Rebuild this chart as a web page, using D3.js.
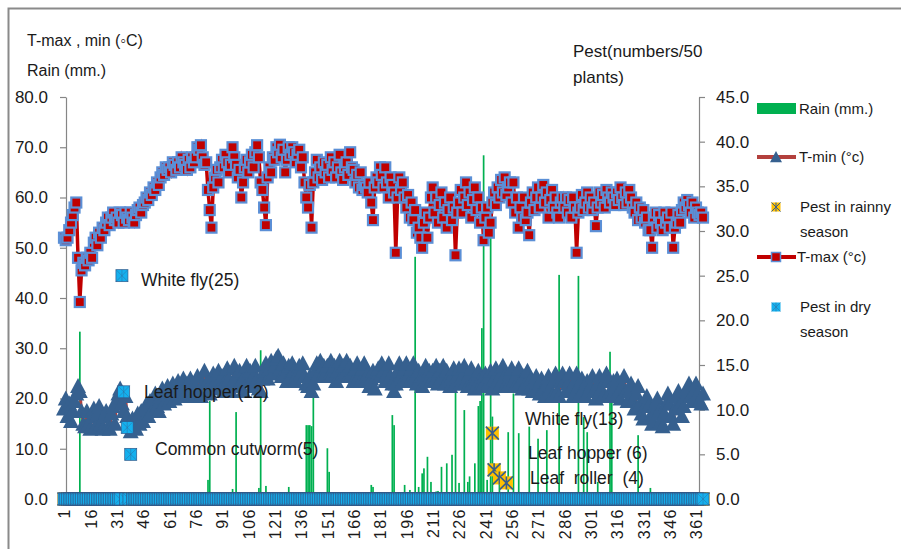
<!DOCTYPE html>
<html lang="en">
<head>
<meta charset="utf-8" />
<title>T-max, T-min, rain and pests</title>
<script src="https://d3js.org/d3.v7.min.js" charset="utf-8"></script>
<style>
  body { margin: 0; background: #fff; }
  svg text { font-family: "Liberation Sans", Arial, sans-serif; fill: #1a1a1a; }
  .axis path, .axis line { stroke: #868686; stroke-width: 1.2; }
  .axis text { font-size: 17px; }
  .xaxis text { font-size: 16px; letter-spacing: 1.5px; }
</style>
</head>
<body>
<div id="chart"></div>
<script>
// daily max temperature (left axis), rows of 15 days
const tmax = [
  52, 51.5, 52, 53.5, 55, 56.5, 58, 59, 48, 39.2, 45.5, 47, 46.5, 48, 47.5,
  49, 48, 51, 52, 50.5, 53, 52, 54, 53.5, 55, 56, 54.5, 56, 57, 55.5,
  56, 55, 57, 56.5, 55, 57, 56, 55.5, 57, 56, 55, 56.5, 57.5, 58, 57,
  58.5, 59, 60, 59.5, 61, 60.5, 62, 61.5, 63, 62.5, 64, 65, 64.5, 66, 65.5,
  66, 65, 67, 66.5, 65.5, 67, 66, 68, 67, 66.5, 65.5, 67.5, 66, 68, 67,
  68, 70, 69.5, 70.4, 68, 66.5, 67, 61.5, 57.5, 54, 62, 64, 65.5, 63, 66,
  67.5, 66, 68.5, 67, 65, 66.5, 70, 68, 66.5, 64, 65.5, 60, 63, 66, 67.5,
  65, 67, 68.5, 66, 69, 70.4, 68, 63, 61.5, 58, 54.5, 64, 66, 65, 68,
  67.5, 70, 69, 70.5, 68, 69.5, 65, 67.5, 70, 68.5, 70, 69, 67, 68.5, 69.5,
  66, 68, 63, 60, 58, 62.5, 54, 63, 65, 67.5, 64, 66, 63.5, 67, 65,
  66.5, 64, 68, 65.5, 67, 64, 66, 68.5, 65, 63.5, 66, 67, 64.5, 69, 66,
  65.5, 63, 64.5, 62, 65, 61.5, 62.5, 62, 61, 63, 59, 55.5, 62, 64, 63,
  66, 64.5, 62, 66, 63, 60, 64, 62.5, 61, 49, 60, 64, 61.5, 63, 60,
  58, 60.5, 56, 59, 55.5, 57.5, 53, 54, 52, 50, 55, 57, 52, 56, 60,
  62, 57, 60, 55, 58.5, 61, 56, 59, 54, 57.5, 60, 55.5, 58, 48.5, 57,
  59, 61.5, 57, 60, 63, 58.5, 61, 56, 59.5, 62, 57.5, 60, 55, 58, 51.5,
  56, 58, 53, 55, 59, 61, 58.5, 62, 60, 63.5, 61, 64, 60.5, 62, 63,
  59, 63, 57, 60, 54, 58, 56, 60, 55.5, 57, 52.5, 59, 61, 57.5, 60,
  62, 58, 60, 62.5, 59, 61, 56, 59.5, 61.5, 58, 60, 57, 56, 59, 60,
  58, 60, 57, 59.5, 56, 60, 58, 49, 57, 58, 60.5, 57.5, 59, 61, 58,
  60, 57.5, 59, 54.3, 58, 61, 59, 60.5, 58, 61.5, 60, 59, 61, 60, 58.5,
  61, 59.5, 62, 60, 58.5, 61, 59, 61.5, 60, 58, 57, 59, 55.5, 58, 56,
  57.5, 55, 56, 53.5, 53.5, 50, 56, 57, 54, 56.5, 55, 53.5, 57, 55, 56,
  54, 57, 50, 54, 55, 56.5, 55, 57.5, 59, 58, 59.5, 58.5, 57, 59, 56,
  58, 57, 56.5, 57, 56
];

// daily min temperature (left axis)
const tmin = [
  18, 20, 16.5, 19, 15.5, 17.5, 19.5, 21, 22.5, 21.5, 17.5, 15, 14.5, 17.5, 15,
  14, 16.5, 18, 14.5, 17, 18.5, 15, 14, 16.5, 17.5, 14.5, 14, 17, 18.5, 15,
  19.5, 21, 22, 19, 17.5, 20.5, 16.5, 15, 13.5, 16, 14.5, 14, 17, 15, 17.5,
  15.5, 18, 19, 16.5, 19.5, 17.5, 20, 21, 18.5, 17.5, 20.5, 22, 19, 21, 22.5,
  19.5, 22, 23, 20, 21.5, 23.5, 20.5, 22.5, 24, 21, 23, 20.5, 24, 22, 21,
  22.5, 24.5, 21.5, 20.5, 23, 25.5, 23, 21.5, 21, 23.5, 25, 22, 24, 25.5, 22.5,
  24.5, 21.5, 23.5, 26, 24, 21.5, 23, 26.5, 24.5, 22.5, 25.5, 23.5, 21.5, 24.5, 26.5,
  23.5, 25.5, 22.5, 24.5, 26.5, 24, 22, 21.5, 24, 25.5, 27, 24, 26, 27.5, 25,
  26.5, 28, 28.5, 26, 24.5, 27, 25, 23.5, 26.5, 24.5, 27, 25.5, 23.5, 25, 26.5,
  25, 27, 24.5, 23, 22.5, 24.5, 21.5, 23, 25.5, 27, 25, 27.5, 24.5, 26.5, 25,
  26.5, 24.5, 27.5, 25, 26.5, 23.5, 25.5, 27.5, 24.5, 26.5, 25, 27.5, 24.5, 26.5, 25,
  23.5, 26, 27, 24.5, 23.5, 26, 27, 23.5, 25, 22.5, 24, 25.5, 22, 24.5, 26,
  24.5, 27, 25.5, 23.5, 25, 27, 24.5, 23, 21.5, 23, 25.5, 27, 24.5, 23.5, 26,
  27, 24.5, 23.5, 26, 27, 24.5, 23, 25.5, 24, 22.5, 24.5, 26.5, 23.5, 25.5, 23.5,
  25.5, 23.5, 26.5, 23, 25.5, 24, 26.5, 23, 25.5, 24, 22.5, 24.5, 26, 23, 24.5,
  26, 23, 24.5, 26.5, 23.5, 22.5, 25, 26, 23.5, 22, 24, 25.5, 22.5, 24.5, 23,
  25, 22.5, 24.5, 25.5, 22, 24, 26, 23.5, 22.5, 25, 26.5, 24.5, 23, 22.5, 25,
  26, 23.5, 22.5, 25, 26, 23.5, 22, 24.5, 23, 25.5, 22, 24, 21.5, 23.5, 24.5,
  22.5, 21, 24, 22, 20.5, 23, 24.5, 22, 20.5, 23.5, 25, 21.5, 20.5, 23.5, 25,
  23.5, 21.5, 23, 25, 22, 20.5, 23.5, 25, 22.5, 21, 24, 22, 20.5, 23.5, 21.5,
  22.5, 24.5, 21.5, 20, 23, 24.5, 22, 20.5, 23.5, 25, 23.5, 21.5, 20.5, 23.5, 22.5,
  24, 21.5, 20, 22.5, 24.5, 21.5, 19.5, 21.5, 23, 19.5, 18, 21, 22.5, 19, 17,
  16, 18.5, 20.5, 18.5, 16.5, 15, 17, 19, 20, 17.5, 15.5, 14.5, 17, 19, 21,
  19, 16.5, 15, 18, 20.5, 21.5, 19, 16.5, 18.5, 20.5, 22, 23, 20.5, 19.5, 21.5,
  23, 21, 19.5, 19, 21
];

// rain (mm.), only the days with rain
const rainDays = [10, 83, 84, 97, 99, 112, 113, 116, 129, 139, 140, 141, 142, 143, 151, 152,
  176, 177, 188, 189, 195, 198, 201, 203, 205, 206, 208, 210, 213, 214, 216, 219, 222, 224,
  226, 229, 231, 232, 235, 237, 238, 239, 240, 242, 244, 245, 249, 254, 257, 260, 266, 271,
  276, 283, 294, 297, 299, 305, 312, 313, 328, 335];
const rainMm = [33.3, 3.8, 19.5, 2.0, 17.3, 2.2, 29.6, 2.6, 2.4, 14.7, 14.7, 14.7, 14.5, 20.3, 10.1, 5.4,
  2.8, 2.4, 16.7, 14.7, 2.8, 1.8, 48.2, 2.4, 5.1, 6.1, 8.4, 3.4, 1.5, 1.6, 6.4, 7.1, 8.8, 21.7,
  3.2, 17.7, 3.4, 4.5, 7.1, 18.5, 19.5, 34, 68.4, 3.8, 52.2, 16.4, 7.1, 13.3, 21, 13.1, 14.4, 12,
  13.7, 44.6, 44.4, 16.3, 13.3, 3.4, 29.3, 20.7, 12.7, 2.2];

// pests: rainy season read on the left scale, dry season on the right scale
const rainyDays = [245, 246, 249, 253];
const rainyPests = [13.1, 5.8, 4.2, 3.2];
const dryDays = [34, 35, 37, 39];
const dryPests = [25, 12, 8, 5];

const leftTicks = [0, 10, 20, 30, 40, 50, 60, 70, 80];
const rightTicks = [0, 5, 10, 15, 20, 25, 30, 35, 40, 45];
const dayLabels = [1, 16, 31, 46, 61, 76, 91, 106, 121, 136, 151, 166, 181, 196, 211, 226,
  241, 256, 271, 286, 301, 316, 331, 346, 361];

const W = 901, H = 549;
const svg = d3.select("#chart").append("svg")
  .attr("width", W).attr("height", H);

// chart frame
svg.append("rect")
  .attr("x", 8.5).attr("y", 8.5).attr("width", 1000).attr("height", 1000)
  .attr("fill", "#fff").attr("stroke", "#8a8a8a").attr("stroke-width", 2);

const days = d3.range(1, tmax.length + 1);
const x = d3.scaleLinear().domain([1, 361]).range([64, 696]);
const yL = d3.scaleLinear().domain([0, 80]).range([499, 97]);
const yR = d3.scaleLinear().domain([0, 45]).range([499, 97]);

const rainByDay = new Map(rainDays.map((d, i) => [d, rainMm[i]]));
const rainyByDay = new Map(rainyDays.map((d, i) => [d, rainyPests[i]]));
const dryByDay = new Map(dryDays.map((d, i) => [d, dryPests[i]]));

const daily = days.map((d, i) => ({
  day: d,
  tmax: tmax[i],
  tmin: tmin[i],
  rain: rainByDay.get(d) || 0,
  rainy: rainyByDay.get(d) || 0,
  dry: dryByDay.get(d) || 0
}));

// axes
svg.append("g").attr("class", "axis")
  .attr("transform", "translate(66,0)")
  .call(d3.axisLeft(yL).tickValues(leftTicks).tickFormat(d3.format(".1f"))
    .tickSize(6).tickSizeOuter(0).tickPadding(12));
svg.append("g").attr("class", "axis")
  .attr("transform", "translate(699,0)")
  .call(d3.axisRight(yR).tickValues(rightTicks).tickFormat(d3.format(".1f"))
    .tickSize(6).tickSizeOuter(0).tickPadding(11));
const gX = svg.append("g").attr("class", "axis xaxis")
  .attr("transform", "translate(0,499)")
  .call(d3.axisBottom(x).tickValues(dayLabels).tickSize(0).tickSizeOuter(0));
gX.select(".domain").attr("d", "M66,0H699");
gX.selectAll("text")
  .attr("transform", "translate(0,9) rotate(-90)")
  .attr("text-anchor", "end")
  .attr("x", 0).attr("y", 0).attr("dy", "0.36em");

// rain bars
svg.append("g").selectAll("rect")
  .data(daily.filter(d => d.rain > 0))
  .join("rect")
  .attr("x", d => x(d.day) - 0.8)
  .attr("width", 1.7)
  .attr("y", d => yL(d.rain))
  .attr("height", d => yL(0) - yL(d.rain))
  .attr("fill", "#00B050");

// T-min
const tri = "M0,-8L8,7L-8,7Z";
svg.append("path")
  .datum(daily)
  .attr("fill", "none").attr("stroke", "#B3403D").attr("stroke-width", 3)
  .attr("d", d3.line().x(d => x(d.day)).y(d => yL(d.tmin)));
svg.append("g").selectAll("path")
  .data(daily)
  .join("path")
  .attr("transform", d => `translate(${x(d.day)},${yL(d.tmin)})`)
  .attr("d", tri)
  .attr("fill", "#36608F");

// T-max
svg.append("path")
  .datum(daily)
  .attr("fill", "none").attr("stroke", "#C00000").attr("stroke-width", 3.5)
  .attr("d", d3.line().x(d => x(d.day)).y(d => yL(d.tmax)));
svg.append("g").selectAll("rect")
  .data(daily)
  .join("rect")
  .attr("x", d => x(d.day) - 5)
  .attr("y", d => yL(d.tmax) - 5)
  .attr("width", 10).attr("height", 10)
  .attr("fill", "#C00000").attr("stroke", "#5B8FD6").attr("stroke-width", 2.2);

// pest markers: filled square with an asterisk
function starMarker(g, fill, size, lineW, edge) {
  const h = size / 2;
  g.append("rect").attr("x", -h).attr("y", -h).attr("width", size).attr("height", size)
    .attr("fill", fill)
    .attr("stroke", edge ? "#2F5A8C" : "none").attr("stroke-width", edge || 0);
  g.append("path")
    .attr("d", `M${-h},${-h}L${h},${h}M${h},${-h}L${-h},${h}M0,${-h}V${h}`)
    .attr("stroke", "#385D8A").attr("stroke-width", lineW).attr("fill", "none");
}
svg.append("g").selectAll("g")
  .data(daily)
  .join("g")
  .attr("transform", d => `translate(${x(d.day)},${yL(d.rainy)})`)
  .each(function () { starMarker(d3.select(this), "#FFC000", 13, 1.6); });
svg.append("g").selectAll("g")
  .data(daily)
  .join("g")
  .attr("transform", d => `translate(${x(d.day)},${yR(d.dry)})`)
  .each(function () { starMarker(d3.select(this), "#14B0EE", 12, 0.4, 0.7); });

// pest annotations
const notes = [
  { t: "White fly(25)", x: 141, y: 280 },
  { t: "Leaf hopper(12)", x: 144, y: 392 },
  { t: "Common cutworm(5)", x: 155, y: 449 },
  { t: "White fly(13)", x: 525, y: 419 },
  { t: "Leaf hopper (6)", x: 528, y: 453 },
  { t: "Leaf  roller  (4)", x: 530, y: 478 }
];
svg.append("g").selectAll("text")
  .data(notes)
  .join("text")
  .attr("x", d => d.x).attr("y", d => d.y).attr("dy", "0.35em")
  .style("font-size", "17.5px").style("white-space", "pre")
  .text(d => d.t);

// axis titles
const titles = [
  { t: "T-max , min (\u25E6C)", x: 27, y: 40, s: 16 },
  { t: "Rain (mm.)", x: 27, y: 70, s: 16 },
  { t: "Pest(numbers/50", x: 573, y: 51, s: 17 },
  { t: "plants)", x: 573, y: 77, s: 17 }
];
svg.append("g").selectAll("text")
  .data(titles)
  .join("text")
  .attr("x", d => d.x).attr("y", d => d.y).attr("dy", "0.35em")
  .style("font-size", d => d.s + "px")
  .text(d => d.t);

// legend
const lg = svg.append("g").style("font-size", "15px");
lg.append("rect").attr("x", 757).attr("y", 103).attr("width", 39).attr("height", 11).attr("fill", "#00B050");
lg.append("text").attr("x", 799).attr("y", 109).attr("dy", "0.35em").text("Rain (mm.)");

lg.append("line").attr("x1", 757).attr("x2", 796).attr("y1", 157).attr("y2", 157)
  .attr("stroke", "#B3403D").attr("stroke-width", 4);
lg.append("path").attr("transform", "translate(776,157) scale(0.75)").attr("d", tri).attr("fill", "#36608F");
lg.append("text").attr("x", 799).attr("y", 157).attr("dy", "0.35em").text("T-min (\u00B0c)");

starMarker(lg.append("g").attr("transform", "translate(776,207)"), "#FFC000", 9, 1);
lg.append("text").attr("x", 800).attr("y", 207).attr("dy", "0.35em").text("Pest in rainny");
lg.append("text").attr("x", 800).attr("y", 232).attr("dy", "0.35em").text("season");

lg.append("line").attr("x1", 757).attr("x2", 796).attr("y1", 257).attr("y2", 257)
  .attr("stroke", "#C00000").attr("stroke-width", 4);
lg.append("rect").attr("x", 771.5).attr("y", 252.5).attr("width", 9).attr("height", 9)
  .attr("fill", "#C00000").attr("stroke", "#5B8FD6").attr("stroke-width", 1.5);
lg.append("text").attr("x", 797).attr("y", 257).attr("dy", "0.35em").text("T-max (\u00B0c)");

starMarker(lg.append("g").attr("transform", "translate(776,307)"), "#14B0EE", 9, 0.4);
lg.append("text").attr("x", 800).attr("y", 307).attr("dy", "0.35em").text("Pest in dry");
lg.append("text").attr("x", 800).attr("y", 332).attr("dy", "0.35em").text("season");
</script>
</body>
</html>
